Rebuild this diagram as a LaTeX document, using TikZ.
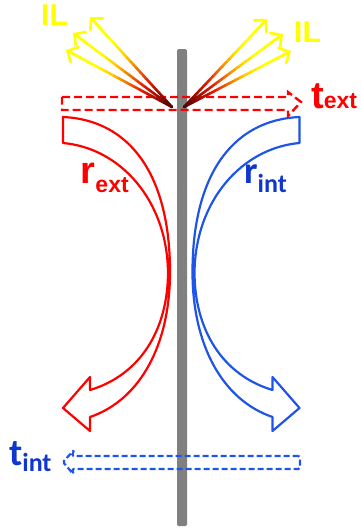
\documentclass[tikz,border=0pt]{standalone}
\usepackage{fontspec}
\setmainfont{Liberation Sans}
\newfontfamily\carl{Carlito}
\usetikzlibrary{arrows.meta,calc}
\definecolor{rred}{RGB}{255,0,0}
\definecolor{bblue}{RGB}{30,85,230}
\definecolor{tblue}{RGB}{15,55,205}
\definecolor{ylw}{RGB}{255,255,0}
\definecolor{bargray}{RGB}{128,128,128}
\newcommand\glowarrow[2]{%
  \foreach \k in {0,...,23}{%
    \pgfmathsetmacro\ga{0.96*\k/24}%
    \pgfmathsetmacro\gb{0.96*(\k+1)/24}%
    \pgfmathsetmacro\gm{(\k+0.5)/24}%
    \pgfmathsetmacro\gr{\gm<0.3 ? 0.3+0.6*\gm/0.3 : (\gm<0.6 ? 0.9+0.1*(\gm-0.3)/0.3 : 1)}%
    \pgfmathsetmacro\gg{\gm<0.3 ? 0.1*\gm/0.3 : (\gm<0.6 ? 0.1+0.7*(\gm-0.3)/0.3 : (\gm<0.75 ? 0.8+0.2*(\gm-0.6)/0.15 : 1))}%
    \definecolor{glowc}{rgb}{\gr,\gg,0}%
    \draw[glowline, glowc] ($(#1)!\ga!(#2)$) -- ($(#1)!\gb!(#2)$);
  }%
  \draw[glowline, ylw, line cap=butt, -{Straight Barb[length=8pt,width=17pt,line cap=round]}] ($(#1)!0.85!(#2)$) -- (#2);
}
\tikzset{
  glowline/.style={line width=2.6pt, line cap=round},
  hookline/.style={line width=2.2pt, line join=round},
  tubeline/.style={line width=2.4pt},
  lbl/.style={anchor=base west, inner sep=0pt, font=\bfseries},
  ilfont/.style={text=ylw, font=\bfseries\fontsize{30}{30}\selectfont}
}
\begin{document}
\begin{tikzpicture}[x=1pt, y=-1pt]
\useasboundingbox (0,0) rectangle (360,531);
% wall
\fill[bargray, rounded corners=1.5pt] (177,49) rectangle (187,526);
% curved reflection arrows
\draw[bblue, hookline] (299.5,117) .. controls (232.5,120) and (192.5,175) .. (192.5,272)
  .. controls (192.5,345) and (222.5,400) .. (272.5,417) -- (272.5,431) -- (299.5,408) -- (272.5,377) -- (272.5,390)
  .. controls (222.5,375) and (194.5,330) .. (194.5,272)
  .. controls (195.5,200) and (242.5,148) .. (299.5,143) -- cycle;
\draw[rred, hookline] (63,117) .. controls (130,120) and (170,175) .. (170,272)
  .. controls (170,345) and (140,400) .. (90,417) -- (90,431) -- (63,408) -- (90,377) -- (90,390)
  .. controls (140,375) and (168,330) .. (168,272)
  .. controls (167,200) and (120,148) .. (63,143) -- cycle;
% transmission tubes
\draw[rred, tubeline, dash pattern=on 8pt off 4pt] (62,97) -- (288,97) -- (288,92) -- (301,102) -- (288,116) -- (288,110) -- (62,110) -- cycle;
\draw[bblue, line width=2.2pt, dash pattern=on 6pt off 3pt, rounded corners=1.5pt] (300,456) -- (72,456) -- (74,450) -- (63,462) -- (74,475) -- (72,469) -- (300,469) -- cycle;
% emitted light arrows
\coordinate (L0) at (172,107);
\coordinate (R0) at (184,107);
\coordinate (La) at (66,50);
\coordinate (Lb) at (73,33);
\coordinate (Lc) at (90,17);
\coordinate (Ra) at (267,19);
\coordinate (Rb) at (283,34);
\coordinate (Rc) at (291,51);
\glowarrow{L0}{La}
\glowarrow{L0}{Lb}
\glowarrow{L0}{Lc}
\glowarrow{R0}{Ra}
\glowarrow{R0}{Rb}
\glowarrow{R0}{Rc}
% labels
\node[lbl, ilfont] (il1) at (41,25) {IL};
\node[lbl, ilfont] (il2) at (294,42) {IL};
\node[lbl, text=rred] (rext) at (80.5,183) {\fontsize{38}{38}\selectfont r\raisebox{-9pt}{\fontsize{23}{23}\selectfont ext}};
\node[lbl, text=rred] (text) at (311,108) {\fontsize{38}{38}\selectfont t\fontsize{23}{23}\selectfont ext};
\node[lbl, text=tblue] (rint) at (244,183) {\carl\fontsize{38}{38}\selectfont r\raisebox{-9pt}{\fontsize{26}{26}\selectfont int}};
\node[lbl, text=tblue] (tint) at (9,465) {\carl\fontsize{38}{38}\selectfont t\raisebox{-6pt}{\fontsize{26}{26}\selectfont int}};
\end{tikzpicture}
\end{document}
